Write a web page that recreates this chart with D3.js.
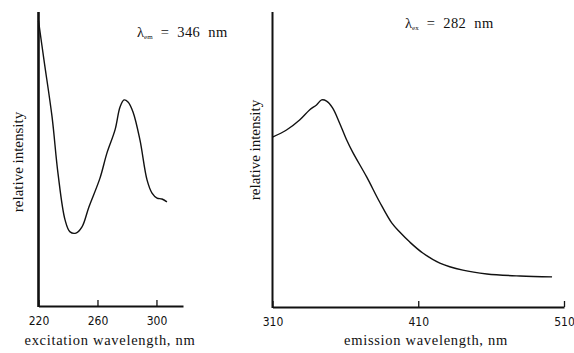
<!DOCTYPE html>
<html>
<head>
    <script src="https://d3js.org/d3.v7.min.js"></script>
    <style>
        body { margin: 0; background: #fff; }
        .tick text { font-family: "DejaVu Sans Condensed", "Liberation Sans Narrow", "DejaVu Sans", sans-serif; font-size: 12px; fill: #111; }
        .lbl { font-family: "Liberation Serif", "DejaVu Serif", serif; fill: #111; white-space: pre; }
    </style>
</head>
<body>
    <div id="chart"></div>
    <script>
        // excitation spectrum (left), lambda_em = 346 nm
        const exWavelength = [220, 223.7, 229.2, 233.2, 238, 241.4, 245.4, 249.5, 254.2, 261.7, 266.4, 271.9, 275.3, 278, 280.7, 284.1, 288.8, 293.6, 297, 300.4, 303.7, 307.1];
        const exIntensity = [97, 83.7, 64.3, 45.2, 29.3, 25.2, 24.8, 26.9, 33.7, 43.5, 52, 59.9, 67.7, 70.1, 69.4, 66, 56.5, 42.9, 38.4, 36.7, 36.4, 35.4];
        const exTicks = [220, 260, 300];

        // emission spectrum (right), lambda_ex = 282 nm
        const emWavelength = [310, 319.6, 328.6, 335.4, 340.2, 343.7, 347.1, 351.2, 356, 360.9, 365, 374.6, 383.5, 391.8, 397.3, 404.2, 413.1, 424.8, 440.6, 457.1, 479.8, 501.8];
        const emIntensity = [57.6, 60, 63.4, 66.8, 68.5, 70.2, 69.8, 67.5, 62.4, 56.6, 52.5, 44.1, 35.6, 28.5, 25.4, 22, 18.3, 14.9, 12.5, 11.2, 10.5, 10.2];
        const emTicks = [310, 410, 510];

        const W = 574, H = 353;
        const svg = d3.select("#chart").append("svg")
            .attr("width", W).attr("height", H);

        const ink = "#111";

        function panel(opts) {
            const x = d3.scaleLinear().domain(opts.xDomain).range(opts.xRange);
            const y = d3.scaleLinear().domain([0, 100]).range([opts.base, opts.top]);

            // x axis with small inward ticks
            const ax = svg.append("g")
                .attr("transform", "translate(0," + opts.base + ")")
                .call(d3.axisBottom(x).tickValues(opts.ticks).tickSize(-6).tickSizeOuter(0).tickPadding(10));
            ax.select(".domain").attr("stroke", ink).attr("stroke-width", 2);
            ax.selectAll(".tick line").attr("stroke", ink).attr("stroke-width", 1.3);
            ax.selectAll(".tick text").attr("dy", "0.71em");

            // y axis line (no ticks)
            svg.append("line")
                .attr("x1", opts.xRange[0]).attr("x2", opts.xRange[0])
                .attr("y1", opts.top).attr("y2", opts.base + 1)
                .attr("stroke", ink).attr("stroke-width", opts.yWidth);

            const line = d3.line()
                .x((d, i) => x(opts.xs[i]))
                .y(d => y(d))
                .curve(d3.curveCatmullRom.alpha(0.5));
            svg.append("path")
                .datum(opts.ys)
                .attr("d", line)
                .attr("fill", "none")
                .attr("stroke", ink)
                .attr("stroke-width", 1.4);

            // axis titles
            svg.append("text").attr("class", "lbl")
                .attr("x", opts.xTitleX).attr("y", 345)
                .attr("text-anchor", "middle")
                .style("font-size", "14.5px").style("letter-spacing", "0.7px")
                .text(opts.xTitle);
            svg.append("text").attr("class", "lbl")
                .attr("transform", "translate(" + opts.yTitleX + "," + opts.yTitleY + ") rotate(-90)")
                .attr("text-anchor", "middle")
                .style("font-size", "15px")
                .text("relative intensity");

            // lambda label
            const t = svg.append("text").attr("class", "lbl")
                .attr("x", opts.lamX).attr("y", opts.lamY)
                .style("font-size", "14.5px");
            t.append("tspan").text("λ");
            t.append("tspan").attr("dy", 2).style("font-size", "7px").text(opts.lamSub);
            t.append("tspan").attr("dy", -2).style("letter-spacing", "0.4px").text("  =  " + opts.lamVal + "  nm");
        }

        panel({
            xDomain: [220, 318], xRange: [38.5, 183], base: 306, top: 12, yWidth: 2.6,
            ticks: exTicks, xs: exWavelength, ys: exIntensity,
            xTitle: "excitation wavelength, nm", xTitleX: 110,
            yTitleX: 23, yTitleY: 162,
            lamX: 137, lamY: 37, lamSub: "em", lamVal: 346
        });

        panel({
            xDomain: [310, 510], xRange: [272.5, 564], base: 307, top: 12, yWidth: 2,
            ticks: emTicks, xs: emWavelength, ys: emIntensity,
            xTitle: "emission wavelength, nm", xTitleX: 426,
            yTitleX: 260, yTitleY: 150,
            lamX: 405, lamY: 28, lamSub: "ex", lamVal: 282
        });
    </script>
</body>
</html>
